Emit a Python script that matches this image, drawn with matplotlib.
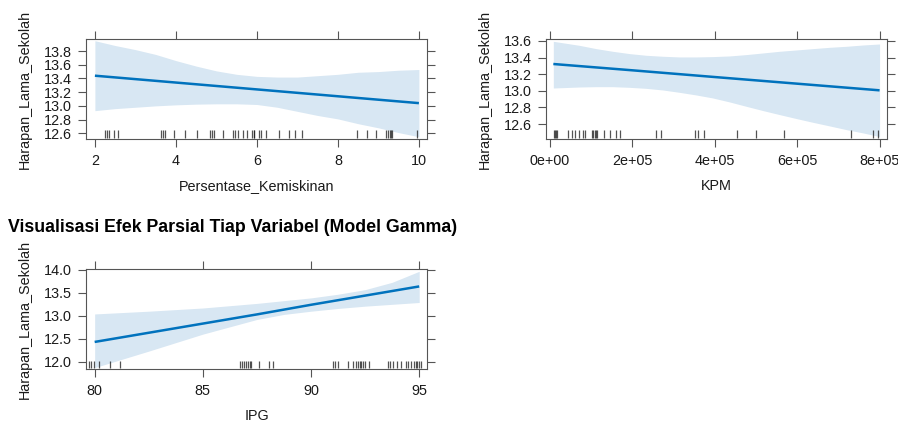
import matplotlib
matplotlib.use("Agg")
import matplotlib.pyplot as plt
import matplotlib.transforms as mtransforms

plt.rcParams['font.family'] = ['Liberation Sans', 'DejaVu Sans']

# ---- Panel 1: Persentase_Kemiskinan ----
kem_x = [2, 4, 6, 8, 10]
kem_fit = [13.44, 13.34, 13.24, 13.14, 13.04]
kem_band_x = [2, 2.5, 3, 3.5, 4, 4.5, 5, 5.5, 6, 6.5, 7, 7.5, 8, 8.5, 9, 9.5, 10]
kem_upper = [13.95, 13.88, 13.82, 13.75, 13.66, 13.58, 13.51, 13.46, 13.43,
             13.42, 13.42, 13.44, 13.46, 13.49, 13.50, 13.52, 13.53]
kem_lower = [12.93, 12.96, 12.98, 13.00, 13.015, 13.025, 13.03, 13.03, 13.02,
             12.98, 12.92, 12.86, 12.81, 12.74, 12.68, 12.61, 12.55]
kem_rug = [2.26, 2.31, 2.36, 2.48, 2.56, 3.63, 3.67, 3.72, 3.96, 4.23, 4.51,
           4.83, 4.88, 4.94, 5.17, 5.42, 5.46, 5.53, 5.65, 5.76, 5.89, 5.92,
           5.94, 6.06, 6.11, 6.22, 6.55, 6.79, 6.94, 7.12, 8.46, 8.71, 8.93,
           9.19, 9.24, 9.28, 9.31, 9.34, 9.95]
kem_ticks = [2, 4, 6, 8, 10]
kem_yticks = [12.6, 12.8, 13.0, 13.2, 13.4, 13.6, 13.8]

# ---- Panel 2: KPM ----
kpm_x = [8.1e3, 2e5, 4e5, 6e5, 8e5]
kpm_fit = [13.323, 13.247, 13.166, 13.086, 13.006]
kpm_band_x = [8.1e3, 7.1e4, 1.12e5, 1.52e5, 1.93e5, 2.33e5, 2.74e5, 3.14e5,
              3.55e5, 3.95e5, 4.36e5, 4.76e5, 5.17e5, 5.57e5, 5.98e5, 6.38e5,
              6.79e5, 7.19e5, 7.6e5, 8.0e5]
kpm_upper = [13.596, 13.548, 13.508, 13.476, 13.448, 13.428, 13.416, 13.408,
             13.408, 13.412, 13.420, 13.436, 13.456, 13.476, 13.492, 13.508,
             13.524, 13.536, 13.552, 13.564]
kpm_lower = [13.034, 13.046, 13.050, 13.050, 13.042, 13.030, 13.010, 12.982,
             12.950, 12.914, 12.866, 12.814, 12.762, 12.714, 12.666, 12.621,
             12.577, 12.533, 12.493, 12.449]
kpm_rug = [8.9e3, 1.21e4, 1.46e4, 1.7e4, 4.37e4, 5.34e4, 6.15e4, 7.05e4, 8.0e4,
           8.6e4, 1.03e5, 1.05e5, 1.09e5, 1.12e5, 1.15e5, 1.30e5, 1.45e5,
           1.59e5, 1.70e5, 2.58e5, 2.70e5, 3.52e5, 3.60e5, 3.75e5, 4.55e5,
           5.01e5, 5.69e5, 7.30e5, 7.84e5, 7.96e5]
kpm_ticks = [0, 2e5, 4e5, 6e5, 8e5]
kpm_ticklabels = ["0e+00", "2e+05", "4e+05", "6e+05", "8e+05"]
kpm_yticks = [12.6, 12.8, 13.0, 13.2, 13.4, 13.6]

# ---- Panel 3: IPG ----
ipg_x = [80, 82.5, 85, 87.5, 90, 92.5, 95]
ipg_fit = [12.43, 12.63, 12.83, 13.03, 13.24, 13.44, 13.64]
ipg_band_x = [80, 82.5, 85, 87.5, 88.75, 90, 91.25, 92.5, 93.75, 95]
ipg_upper = [13.04, 13.10, 13.17, 13.27, 13.33, 13.39, 13.47, 13.57, 13.73, 13.97]
ipg_lower = [11.87, 12.23, 12.60, 12.92, 13.03, 13.10, 13.16, 13.21, 13.25, 13.29]
ipg_rug = [79.75, 79.83, 79.98, 80.2, 80.72, 81.18, 86.71, 86.80, 86.90, 86.99,
           87.08, 87.17, 87.23, 87.59, 88.04, 88.23, 91.0, 91.09, 91.24, 91.69,
           91.93, 92.07, 92.16, 92.25, 92.33, 92.42, 92.49, 92.66, 93.58, 93.67,
           93.79, 93.98, 94.16, 94.39, 94.49, 94.64, 94.76, 94.84, 94.90, 94.98,
           95.07]
ipg_ticks = [80, 85, 90, 95]
ipg_yticks = [12.0, 12.5, 13.0, 13.5, 14.0]

title = "Visualisasi Efek Parsial Tiap Variabel (Model Gamma)"
ylabel = "Harapan_Lama_Sekolah"

W, H = 898, 423
fig = plt.figure(figsize=(W / 100, H / 100), dpi=100)

LINE = "#0072BD"
BAND = "#D8E7F3"
FRAME = "#555555"
TXT = "#1a1a1a"
FS = 10.4


def px_axes(l, r, t, b):
    return fig.add_axes([l / W, 1 - b / H, (r - l) / W, (b - t) / H])


def panel(ax, x, fit, bx, lo, up, rug, xlim, ylim, xticks, yticks, xlabel,
          xticklabels, yfmt="{:.1f}"):
    ax.fill_between(bx, lo, up, color=BAND, lw=0, zorder=1)
    ax.plot(x, fit, color=LINE, lw=1.8, zorder=3, solid_capstyle='butt')
    trans = mtransforms.blended_transform_factory(ax.transData, ax.transAxes)
    for v in rug:
        ax.plot([v, v], [0.013, 0.085], transform=trans, color="#1a1a1a",
                lw=0.9, alpha=0.75, zorder=2, solid_capstyle='butt')
    ax.set_xlim(*xlim)
    ax.set_ylim(*ylim)
    ax.set_xticks(xticks)
    ax.set_xticklabels(xticklabels)
    ax.set_yticks(yticks)
    ax.set_yticklabels([yfmt.format(v) for v in yticks])
    ax.tick_params(axis='both', which='both', direction='out', length=6,
                   width=0.8, color=FRAME, labelsize=FS, labelcolor=TXT,
                   top=True, right=True, labeltop=False, labelright=False)
    ax.tick_params(axis='x', pad=5)
    ax.tick_params(axis='y', pad=4)
    for s in ax.spines.values():
        s.set_color(FRAME)
        s.set_linewidth(0.8)
    ax.set_xlabel(xlabel, fontsize=FS, color=TXT, labelpad=8)
    ax.set_ylabel(ylabel, fontsize=FS, color=TXT, labelpad=9)


ax1 = px_axes(86, 427, 39, 139)
panel(ax1, kem_x, kem_fit, kem_band_x, kem_lower, kem_upper, kem_rug,
      (1.78, 10.2), (12.517, 13.975), kem_ticks, kem_yticks,
      "Persentase_Kemiskinan", [str(v) for v in kem_ticks])

ax2 = px_axes(546, 887, 39, 139)
panel(ax2, kpm_x, kpm_fit, kpm_band_x, kpm_lower, kpm_upper, kpm_rug,
      (-9.7e3, 8.18e5), (12.42, 13.624), kpm_ticks, kpm_yticks,
      "KPM", kpm_ticklabels)

ax3 = px_axes(86, 427, 269, 369)
panel(ax3, ipg_x, ipg_fit, ipg_band_x, ipg_lower, ipg_upper, ipg_rug,
      (79.6, 95.36), (11.84, 14.02), ipg_ticks, ipg_yticks, "IPG",
      [str(v) for v in ipg_ticks])

fig.text(8 / W, 1 - 227 / H, title, fontsize=12.75, fontweight='bold',
         color="#000000", ha='left', va='center')

fig.savefig("out.png", dpi=100)
